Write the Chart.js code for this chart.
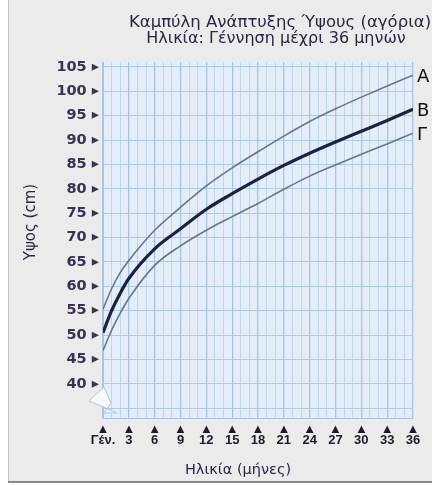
<!DOCTYPE html>
<html>
<head>
<meta charset="utf-8">
<script src="https://cdn.jsdelivr.net/npm/chart.js@4"></script>
<style>
  html, body { margin: 0; padding: 0; background: #fff; }
  #wrap { width: 432px; height: 485px; }
</style>
</head>
<body>
<div id="wrap"><canvas id="growthChart" width="432" height="485"></canvas></div>
<script>
// months of age and heights (cm)
const months = [0, 1, 2, 3, 6, 9, 12, 15, 18, 21, 24, 27, 30, 33, 36];
const heightA = [55.3, 59.5, 62.8, 65.3, 71.5, 76.2, 80.6, 84.3, 87.6, 90.8, 93.8, 96.4, 98.8, 101.1, 103.3];
const heightB = [50.5, 55.0, 58.6, 61.6, 67.7, 71.8, 75.8, 79.0, 82.0, 84.8, 87.3, 89.6, 91.8, 94.0, 96.3];
const heightG = [46.8, 51.0, 54.5, 57.5, 64.3, 68.3, 71.5, 74.3, 77.0, 79.9, 82.6, 84.9, 87.1, 89.2, 91.4];
const curveNames = ['Α', 'Β', 'Γ'];

const xTicks = [0, 3, 6, 9, 12, 15, 18, 21, 24, 27, 30, 33, 36];
const xTickText = ['Γέν.', '3', '6', '9', '12', '15', '18', '21', '24', '27', '30', '33', '36'];
const yTicks = [40, 45, 50, 55, 60, 65, 70, 75, 80, 85, 90, 95, 100, 105];

const titleLines = ['Καμπύλη Ανάπτυξης Ύψους (αγόρια)', 'Ηλικία: Γέννηση μέχρι 36 μηνών'];
const xTitle = 'Ηλικία (μήνες)';
const yTitle = 'Υψος (cm)';

function toPoints(vals) {
  return months.map((m, i) => ({ x: m, y: vals[i] }));
}

const decor = {
  id: 'decor',
  beforeDraw(chart) {
    const ctx = chart.ctx;
    const a = chart.chartArea;
    ctx.save();
    ctx.fillStyle = '#ffffff';
    ctx.fillRect(0, 0, chart.width, chart.height);
    ctx.fillStyle = '#ebebeb';
    ctx.fillRect(8, 0, chart.width - 8, 482);
    ctx.strokeStyle = '#c4c4c4';
    ctx.lineWidth = 1;
    ctx.beginPath();
    ctx.moveTo(8.5, 0);
    ctx.lineTo(8.5, 482);
    ctx.stroke();
    ctx.strokeStyle = '#8a8a8a';
    ctx.lineWidth = 2;
    ctx.beginPath();
    ctx.moveTo(8, 482);
    ctx.lineTo(chart.width, 482);
    ctx.stroke();
    // plot background
    ctx.fillStyle = '#e3eef9';
    ctx.fillRect(a.left, a.top, a.right - a.left, a.bottom - a.top);
    ctx.restore();
  },
  afterDraw(chart) {
    const ctx = chart.ctx;
    const a = chart.chartArea;
    const ys = chart.scales.y;
    ctx.save();
    // axis break notch
    const yb = ys.getPixelForValue(36.5);
    ctx.fillStyle = '#f6f9fc';
    ctx.strokeStyle = '#a9c5e4';
    ctx.lineWidth = 1;
    ctx.beginPath();
    ctx.moveTo(a.left + 1, yb - 14);
    ctx.lineTo(a.left - 14, yb);
    ctx.lineTo(a.left + 14, yb + 12);
    ctx.lineTo(a.left + 1, yb + 12);
    ctx.lineTo(a.left + 8, yb + 2);
    ctx.closePath();
    ctx.fill();
    ctx.stroke();

    // titles
    ctx.fillStyle = '#2b2540';
    ctx.textAlign = 'center';
    ctx.textBaseline = 'alphabetic';
    ctx.font = '16.5px "DejaVu Sans"';
    ctx.fillText(titleLines[0], 280, 27);
    ctx.font = '16px "DejaVu Sans"';
    ctx.fillText(titleLines[1], 276, 43);

    ctx.font = '14.5px "DejaVu Sans"';
    ctx.fillText(xTitle, 238, 474);

    ctx.translate(31, 222);
    ctx.rotate(-Math.PI / 2);
    ctx.textBaseline = 'middle';
    ctx.font = '15px "DejaVu Sans"';
    ctx.fillText(yTitle, 0, 0);
    ctx.restore();

    // curve labels at the end of each line
    ctx.save();
    ctx.fillStyle = '#111';
    ctx.font = '18px "DejaVu Sans"';
    ctx.textAlign = 'left';
    ctx.textBaseline = 'middle';
    chart.data.datasets.forEach((ds, i) => {
      const last = ds.data[ds.data.length - 1];
      const px = chart.scales.x.getPixelForValue(last.x);
      const py = ys.getPixelForValue(last.y);
      ctx.fillText(curveNames[i], px + 4, py + 2);
    });
    ctx.restore();
  }
};

const ctx = document.getElementById('growthChart').getContext('2d');
new Chart(ctx, {
  type: 'line',
  data: {
    datasets: [
      { label: 'Α', data: toPoints(heightA), borderColor: '#66748f', borderWidth: 1.6 },
      { label: 'Β', data: toPoints(heightB), borderColor: '#1b2244', borderWidth: 3.2 },
      { label: 'Γ', data: toPoints(heightG), borderColor: '#66748f', borderWidth: 1.6 }
    ]
  },
  options: {
    responsive: false,
    animation: false,
    cubicInterpolationMode: 'monotone',
    pointRadius: 0,
    layout: { padding: { top: 62, right: 19, bottom: 0, left: 0 } },
    plugins: {
      legend: { display: false },
      tooltip: { enabled: false }
    },
    scales: {
      x: {
        type: 'linear',
        min: 0,
        max: 36,
        afterBuildTicks: (scale) => {
          const t = [];
          for (let m = 0; m <= 36; m++) t.push({ value: m });
          scale.ticks = t;
        },
        afterFit: (scale) => { scale.height = 67; },
        grid: {
          drawTicks: false,
          color: (c) => (c.tick && c.tick.value % 3 === 0 ? '#a6c4e6' : '#c0d7ef'),
          lineWidth: (c) => (c.tick && c.tick.value % 3 === 0 ? 1.3 : 1)
        },
        border: { color: '#a6c4e6' },
        ticks: {
          autoSkip: false,
          maxRotation: 0,
          padding: 6,
          color: '#1e1a2c',
          font: { family: 'Liberation Sans', size: 13, weight: 'bold', lineHeight: 0.85 },
          callback: (v) => {
            const i = xTicks.indexOf(v);
            return i < 0 ? '' : ['▲', xTickText[i]];
          }
        }
      },
      y: {
        min: 33,
        max: 106,
        afterBuildTicks: (scale) => {
          scale.ticks = [35].concat(yTicks).map(v => ({ value: v }));
        },
        afterFit: (scale) => { scale.width = 103; },
        grid: { drawTicks: false, color: '#aecaea' },
        border: { color: '#a6c4e6' },
        ticks: {
          padding: 4,
          color: '#3b3150',
          font: { family: 'DejaVu Sans', size: 14.5, weight: 'bold' },
          callback: (v) => (yTicks.includes(v) ? v + ' ▸' : '')
        }
      }
    }
  },
  plugins: [decor]
});
</script>
</body>
</html>
